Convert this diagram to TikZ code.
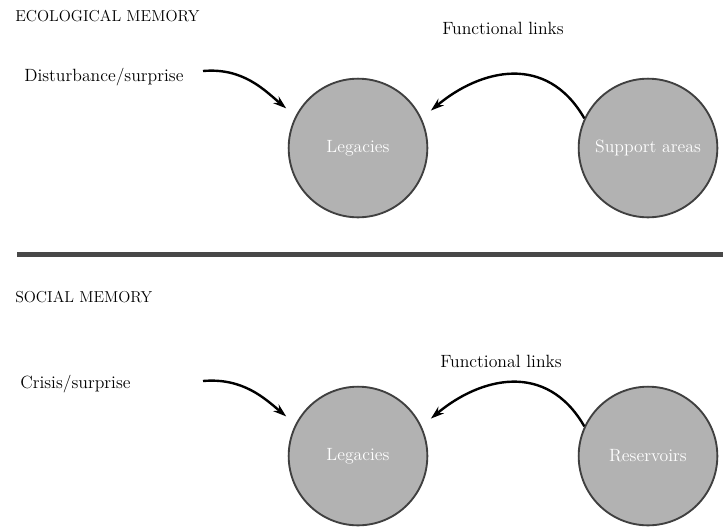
\documentclass[tikz,border=0pt]{standalone}
\usepackage{xcolor}
\usepackage{tikz}
\usetikzlibrary{arrows.meta,positioning}

\definecolor{blobfill}{RGB}{178,178,178}
\definecolor{blobline}{RGB}{64,64,64}
\definecolor{rulegray}{RGB}{72,72,72}

\begin{document}
\begin{tikzpicture}[x=0.75pt,y=0.75pt,>={Stealth[length=10pt,width=6.5pt]},
            node distance=217.5pt,font=\fontsize{13.3}{16}\selectfont]
        \tikzstyle{blob}=[circle,minimum size=104pt,inner sep=0pt,fill=blobfill,draw=blobline,line width=1.4pt,text=white]
        \tikzstyle{heading}=[anchor=base west,inner sep=0pt,font=\fontsize{11.9}{14}\selectfont]
        \tikzstyle{cue}=[anchor=base west,inner sep=0pt]
        \tikzstyle{link}=[->,line width=1.8pt,black]

        \useasboundingbox (0,0) rectangle (723,-526);

        % ecological memory
        \node[heading] (EM) at (15,-21.7) {ECOLOGICAL MEMORY};
        \node[cue] (D) at (24,-81.7) {Disturbance/surprise};
        \node[cue] (F1) at (442,-34.7) {Functional links};
        \node[blob] (L1) at (358,-148) {Legacies};
        \node[blob] (S) [right of=L1] {Support areas};
        \coordinate (d) at (203,-71);

        \path[link] (d) edge[out=5,in=140,shorten >=9pt] (L1.153);
        \path[link] (S.155) edge[out=120,in=40,looseness=1.2,shorten >=9pt] (L1.25);

        \draw[rulegray,line width=3.75pt] (17,-254) -- (723,-254);

        % social memory
        \node[heading] (SM) at (15,-302) {SOCIAL MEMORY};
        \node[cue] (C) at (20,-388.3) {Crisis/surprise};
        \node[cue] (F2) at (440,-367.7) {Functional links};
        \node[blob] (L2) [below of=L1,node distance=231pt] {Legacies};
        \node[blob] (R) [right of=L2] {Reservoirs};
        \coordinate (c) at (203,-381);

        \path[link] (c) edge[out=5,in=140,shorten >=9pt] (L2.153);
        \path[link] (R.155) edge[out=120,in=40,looseness=1.2,shorten >=9pt] (L2.25);
    \end{tikzpicture}
\end{document}
